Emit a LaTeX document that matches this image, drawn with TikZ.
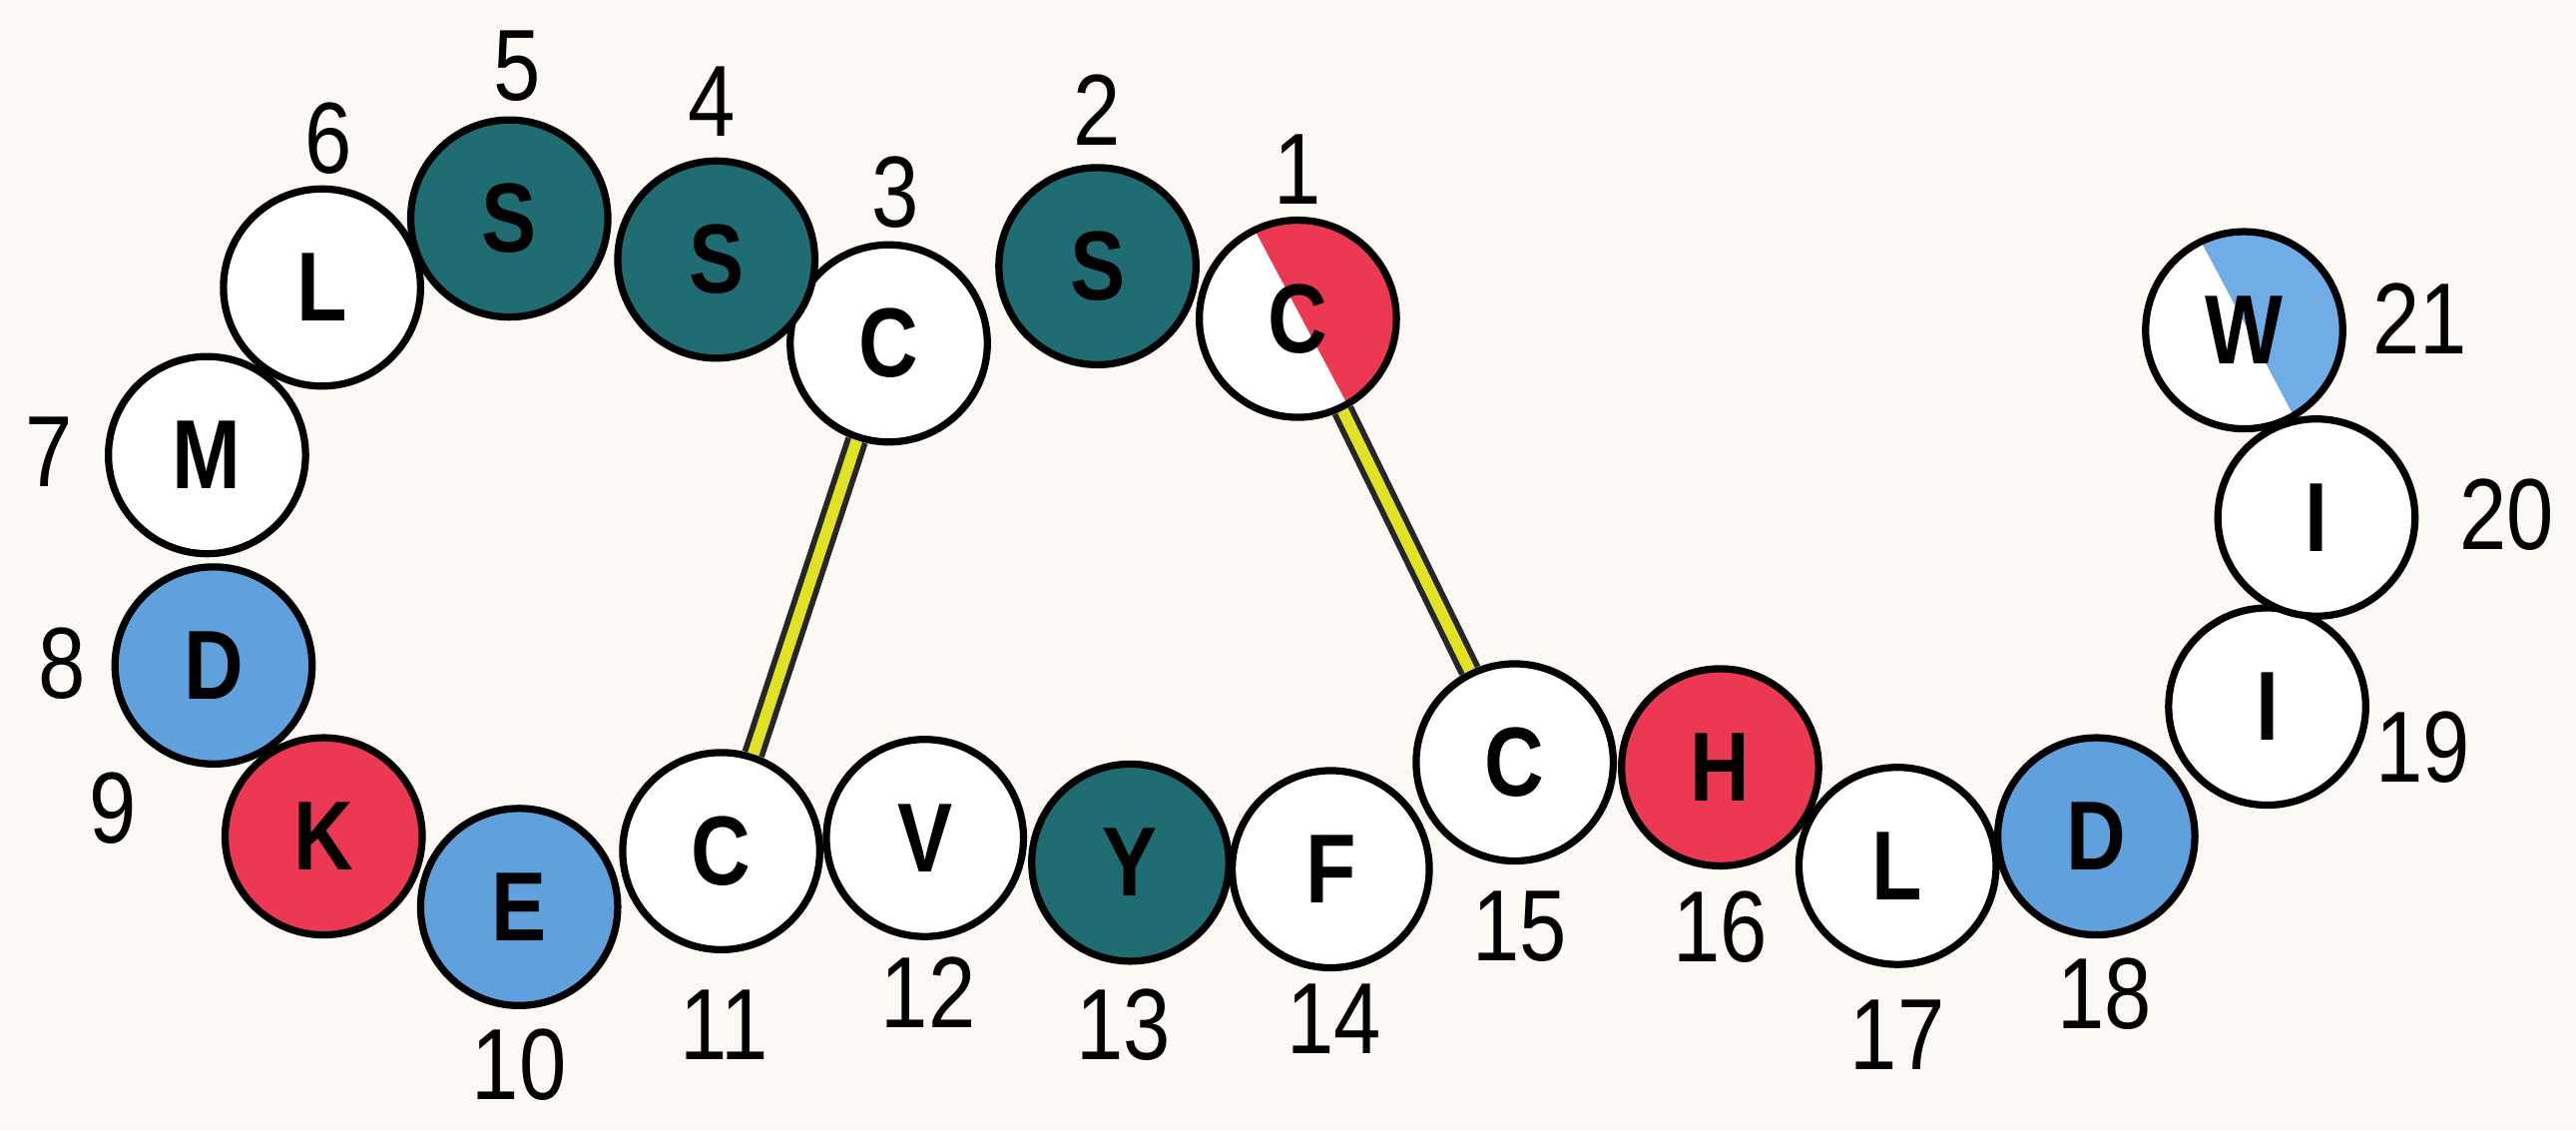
\documentclass[tikz,border=0pt]{standalone}
\usepackage{fontspec}
\setmainfont{Liberation Sans}
\newfontfamily\resfont[FakeStretch=0.84]{Liberation Sans}
\usetikzlibrary{calc,backgrounds}

\definecolor{paper}{RGB}{252,249,245}
\definecolor{teal1}{RGB}{31,108,115}
\definecolor{red1}{RGB}{236,56,82}
\definecolor{blue1}{RGB}{96,160,221}
\definecolor{blue2}{RGB}{112,172,230}
\definecolor{bond}{RGB}{226,226,36}

\tikzset{
  res/.style={circle, draw=black, line width=1.25pt, fill=#1, minimum size=1.2cm,
    inner sep=0pt, font=\resfont\fontsize{17}{19}\selectfont\bfseries},
  res/.default=white,
  part/.style={path picture={\fill[#1] ($(path picture bounding box.center)+(116:0.62)$)
    arc[start angle=116, end angle=-60, radius=0.62] -- cycle;}},
  num/.style={font=\resfont\fontsize{17.5}{20}\selectfont},
  ss/.style={draw=black!85, line width=4pt},
  ssin/.style={draw=bond, line width=2pt}
}

\begin{document}
\begin{tikzpicture}[thick]
  \useasboundingbox[fill=paper] (0,0) rectangle (15.68,6.88);

  % residues
  \node[res, part=red1]   (c1)  at (7.90, 4.94) {C};
  \node[res=teal1]        (c2)  at (6.68, 5.26) {S};
  \node[res]              (c3)  at (5.41, 4.79) {C};
  \node[res=teal1]        (c4)  at (4.36, 5.30) {S};
  \node[res=teal1]        (c5)  at (3.10, 5.55) {S};
  \node[res]              (c6)  at (1.96, 5.13) {L};
  \node[res]              (c7)  at (1.26, 4.11) {M};
  \node[res=blue1]        (c8)  at (1.30, 2.83) {D};
  \node[res=red1]         (c9)  at (1.97, 1.79) {K};
  \node[res=blue1]        (c10) at (3.16, 1.36) {E};
  \node[res]              (c11) at (4.39, 1.70) {C};
  \node[res]              (c12) at (5.63, 1.78) {V};
  \node[res=teal1]        (c13) at (6.88, 1.63) {Y};
  \node[res]              (c14) at (8.10, 1.59) {F};
  \node[res]              (c15) at (9.22, 2.24) {C};
  \node[res=red1]         (c16) at (10.47, 2.21) {H};
  \node[res]              (c17) at (11.55, 1.61) {L};
  \node[res=blue1]        (c18) at (12.76, 1.79) {D};
  \node[res]              (c19) at (13.80, 2.58) {I};
  \node[res]              (c20) at (14.10, 3.73) {I};
  \node[res, part=blue2]  (c21) at (13.66, 4.87) {W};

  % disulfide bonds
  \draw[ss] (c3) -- (c11);
  \draw[ssin] (c3) -- (c11);
  \draw[ss] (c1) -- (c15);
  \draw[ssin] (c1) -- (c15);

  % numbers
  \node[num] (n1)  at (7.90, 5.85) {1};
  \node[num] (n2)  at (6.68, 6.21) {2};
  \node[num] (n3)  at (5.45, 5.71) {3};
  \node[num] (n4)  at (4.33, 6.26) {4};
  \node[num] (n5)  at (3.15, 6.48) {5};
  \node[num] (n6)  at (2.00, 6.04) {6};
  \node[num] (n7)  at (0.30, 4.13) {7};
  \node[num] (n8)  at (0.38, 2.84) {8};
  \node[num] (n9)  at (0.69, 1.96) {9};
  \node[num] (n10) at (3.16, 0.40) {10};
  \node[num] (n11) at (4.41, 0.64) {11};
  \node[num] (n12) at (5.65, 0.84) {12};
  \node[num] (n13) at (6.84, 0.64) {13};
  \node[num] (n14) at (8.12, 0.68) {14};
  \node[num] (n15) at (9.25, 1.24) {15};
  \node[num] (n16) at (10.47, 1.24) {16};
  \node[num] (n17) at (11.55, 0.58) {17};
  \node[num] (n18) at (12.81, 0.83) {18};
  \node[num] (n19) at (14.75, 2.33) {19};
  \node[num] (n20) at (15.26, 3.75) {20};
  \node[num] (n21) at (14.73, 4.94) {21};
\end{tikzpicture}
\end{document}
